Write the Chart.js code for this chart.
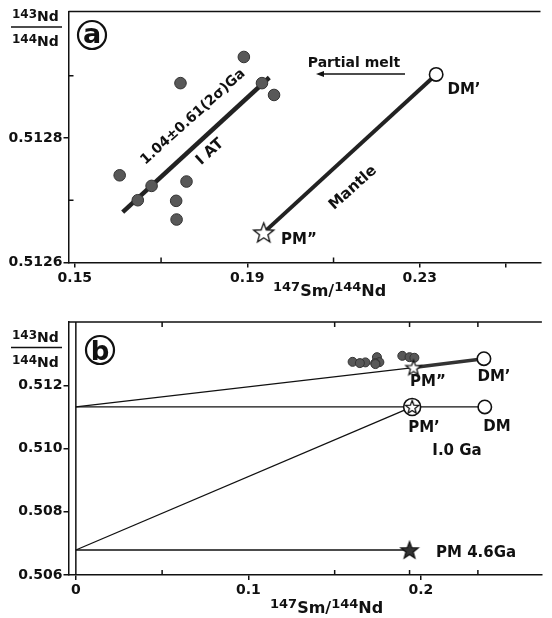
<!DOCTYPE html>
<html>
<head>
<meta charset="utf-8">
<script src="https://cdn.jsdelivr.net/npm/chart.js@4.4.1/dist/chart.umd.min.js"></script>
<style>
  body { margin: 0; background: #fff; }
  #wrap { position: relative; width: 552px; height: 618px; }
  canvas { position: absolute; left: 0; }
  #chartA { top: 0; }
  #chartB { top: 300px; }
</style>
</head>
<body>
<div id="wrap">
  <canvas id="chartA" width="552" height="300"></canvas>
  <canvas id="chartB" width="552" height="318"></canvas>
</div>
<script>
// IAT samples, same in both panels
const iatSm = [0.1892, 0.1745, 0.1934, 0.1962, 0.1604, 0.1678, 0.1759, 0.1646, 0.1735, 0.1736];
const iatNd = [0.51293, 0.512888, 0.512888, 0.512869, 0.51274, 0.512723, 0.51273, 0.5127, 0.512699, 0.512669];

// panel a: isochron fit through the IAT, mantle line PM'' -> DM'
const fitSm = [0.1611, 0.1951];
const fitNd = [0.512681, 0.512897];
const mantleSm = [0.1938, 0.2338];
const mantleNd = [0.512648, 0.512902];

// panel b: reservoirs
const bNames = ["PM", "PM'", "DM", "PM''", "DM'"];
const bSm = [0.1934, 0.1949, 0.2370, 0.1957, 0.2365];
const bNd = [0.50679, 0.511314, 0.511314, 0.51256, 0.51284];
// initial ratios at x = 0 (4.6 Ga and 1.0 Ga)
const initNd = [0.50679, 0.511314];

// ticks
const aXTicks = [0.15, 0.19, 0.23, 0.25];
const aXMinor = [0.17, 0.21];
const aYTicks = [0.5126, 0.5128];
const aYMinor = [0.5127, 0.5129];
const bXTicks = [0, 0.1, 0.2];
const bXMinor = [0.05, 0.15, 0.1934, 0.233];
const bYTicks = [0.506, 0.508, 0.510, 0.512];

const FONT = '"DejaVu Sans"';
const INK = '#111';

function pts(xs, ys) {
  return xs.map((x, i) => ({ x: x, y: ys[i] }));
}
function pt(i) {
  return { x: bSm[i], y: bNd[i] };
}

function starImg(r, fill) {
  const c = document.createElement('canvas');
  const s = Math.ceil(2 * r + 4);
  c.width = s; c.height = s;
  const g = c.getContext('2d');
  g.translate(s / 2, s / 2 + r * 0.08);
  g.beginPath();
  for (let i = 0; i < 10; i++) {
    const rr = i % 2 ? r * 0.42 : r;
    const a = -Math.PI / 2 + i * Math.PI / 5;
    g.lineTo(rr * Math.cos(a), rr * Math.sin(a));
  }
  g.closePath();
  g.fillStyle = fill; g.fill();
  g.lineWidth = 1.3; g.strokeStyle = INK; g.stroke();
  return c;
}

function rich(ctx, parts, x, y) {
  let cx = x;
  parts.forEach(p => {
    ctx.font = 'bold ' + p[1] + 'px ' + FONT;
    ctx.fillText(p[0], cx, y + p[2]);
    cx += ctx.measureText(p[0]).width;
  });
}

function label(ctx, text, x, y, size, rot) {
  ctx.save();
  ctx.translate(x, y);
  if (rot) ctx.rotate(rot);
  ctx.font = 'bold ' + (size || 15) + 'px ' + FONT;
  ctx.textAlign = 'center';
  ctx.textBaseline = 'middle';
  ctx.fillText(text, 0, 0);
  ctx.restore();
}

function circled(ctx, ch, x, y, r, size) {
  ctx.save();
  ctx.beginPath();
  ctx.arc(x, y, r, 0, Math.PI * 2);
  ctx.lineWidth = 2.2; ctx.strokeStyle = INK; ctx.stroke();
  ctx.font = 'bold ' + size + 'px ' + FONT;
  const m = ctx.measureText(ch);
  const h = m.actualBoundingBoxAscent + m.actualBoundingBoxDescent;
  ctx.textAlign = 'center';
  ctx.fillText(ch, x, y + h / 2 - m.actualBoundingBoxDescent);
  ctx.restore();
}

function fraction(ctx, x, lineY) {
  rich(ctx, [['143', 12, -3], ['Nd', 14, 0]], x + 1, lineY - 6);
  rich(ctx, [['144', 12, -3], ['Nd', 14, 0]], x + 1, lineY + 19);
  ctx.beginPath();
  ctx.moveTo(x, lineY); ctx.lineTo(x + 51, lineY);
  ctx.lineWidth = 1.5; ctx.strokeStyle = INK; ctx.stroke();
}

function xTitle(ctx, x, y) {
  rich(ctx, [['147', 13, -5], ['Sm', 16, 0], ['/', 16, 0], ['144', 13, -5], ['Nd', 16, 0]], x, y);
}

function innerTicks(ctx, chart, xs, ys, top) {
  const a = chart.chartArea, sx = chart.scales.x, sy = chart.scales.y;
  ctx.beginPath();
  xs.forEach(v => {
    const px = sx.getPixelForValue(v);
    ctx.moveTo(px, a.bottom); ctx.lineTo(px, a.bottom - 5);
    if (top) { ctx.moveTo(px, a.top); ctx.lineTo(px, a.top + 5); }
  });
  ys.forEach(v => {
    const py = sy.getPixelForValue(v);
    ctx.moveTo(a.left, py); ctx.lineTo(a.left + 5, py);
  });
  ctx.moveTo(a.left, a.top); ctx.lineTo(a.right, a.top);
  ctx.lineWidth = 1.5; ctx.strokeStyle = INK; ctx.stroke();
}

const extrasA = {
  id: 'extrasA',
  afterDraw(chart) {
    const ctx = chart.ctx;
    ctx.save();
    ctx.fillStyle = INK;
    innerTicks(ctx, chart, aXMinor, aYMinor, false);
    fraction(ctx, 11, 27);
    circled(ctx, 'a', 92, 35, 14, 27);
    xTitle(ctx, 273, 296);
    label(ctx, 'Partial melt', 354, 63, 14);
    // arrow pointing left under the words
    ctx.beginPath();
    ctx.moveTo(405, 74); ctx.lineTo(320, 74);
    ctx.lineWidth = 1.4; ctx.stroke();
    ctx.beginPath();
    ctx.moveTo(316, 74); ctx.lineTo(324, 71); ctx.lineTo(324, 77); ctx.closePath();
    ctx.fill();
    label(ctx, 'DM\u2019', 464, 90);
    label(ctx, 'PM\u201d', 299, 240);
    const rot = -42 * Math.PI / 180;
    label(ctx, '1.04\u00b10.61(2\u03c3)Ga', 193, 117, 14, rot);
    label(ctx, 'I AT', 210, 152, 15, rot);
    label(ctx, 'Mantle', 353, 188, 15, rot);
    ctx.restore();
  }
};

const extrasB = {
  id: 'extrasB',
  afterDraw(chart) {
    const ctx = chart.ctx;
    ctx.save();
    ctx.fillStyle = INK;
    innerTicks(ctx, chart, bXMinor, [], true);
    fraction(ctx, 11, 47.5);
    circled(ctx, 'b', 100, 50, 14, 26);
    xTitle(ctx, 270, 313);
    label(ctx, 'PM\u201d', 428, 82);
    label(ctx, 'DM\u2019', 494, 77);
    label(ctx, 'PM\u2019', 424, 128);
    label(ctx, 'DM', 497, 127);
    label(ctx, 'I.0 Ga', 457, 151);
    ctx.font = 'bold 15px ' + FONT;
    ctx.textBaseline = 'middle';
    ctx.fillText('PM 4.6Ga', 436, 253);
    ctx.restore();
  }
};

function axisX(min, max, ticks, fmt, height) {
  return {
    type: 'linear', min: min, max: max,
    afterBuildTicks: s => { s.ticks = ticks.map(v => ({ value: v })); },
    afterFit: s => { s.height = height; },
    ticks: { callback: fmt, color: INK, font: { family: FONT, weight: 'bold', size: 14 }, padding: 2, maxRotation: 0, autoSkip: false },
    grid: { drawOnChartArea: false, tickLength: 5, color: INK, lineWidth: 1.5 },
    border: { color: INK, width: 1.5 }
  };
}
function axisY(min, max, ticks, digits) {
  return {
    type: 'linear', min: min, max: max,
    afterBuildTicks: s => { s.ticks = ticks.map(v => ({ value: v })); },
    afterFit: s => { s.width = 68.5; },
    ticks: { callback: v => v.toFixed(digits), color: INK, font: { family: FONT, weight: 'bold', size: 14 }, padding: 1, autoSkip: false },
    grid: { drawOnChartArea: false, tickLength: 5, color: INK, lineWidth: 1.5 },
    border: { color: INK, width: 1.5 }
  };
}

const lineSet = (data, w, col, order) => ({
  data: data, showLine: true, pointRadius: 0, borderWidth: w, borderColor: col || INK, order: order || 5
});
const dotSet = (data, r) => ({
  data: data, pointRadius: r, pointHoverRadius: r, backgroundColor: '#585858', borderColor: '#333', borderWidth: 1, order: 2
});
const openCircle = (data, r) => ({
  data: data, pointRadius: r, pointHoverRadius: r, backgroundColor: '#fff', borderColor: INK, borderWidth: 1.6, order: 1
});
const starSet = (data, r, fill) => ({
  data: data, pointStyle: starImg(r, fill), pointRadius: r, order: 0
});

const common = {
  responsive: false,
  animation: false,
  events: [],
  plugins: { legend: { display: false }, tooltip: { enabled: false } }
};

new Chart(document.getElementById('chartA'), {
  type: 'scatter',
  data: {
    datasets: [
      lineSet(pts(fitSm, fitNd), 4.5, '#222', 5),
      lineSet(pts(mantleSm, mantleNd), 4, '#222', 5),
      dotSet(pts(iatSm, iatNd), 5.8),
      openCircle([{ x: mantleSm[1], y: mantleNd[1] }], 6.7),
      starSet([{ x: mantleSm[0], y: mantleNd[0] }], 10.5, '#fff')
    ]
  },
  options: Object.assign({}, common, {
    layout: { padding: { top: 10.5, right: 0, left: 0, bottom: 0 } },
    scales: {
      x: axisX(0.14853, 0.2580, aXTicks, v => (v > 0.24 ? '' : v.toFixed(2)), 37.5),
      y: axisY(0.5126, 0.513003, aYTicks, 4)
    }
  }),
  plugins: [extrasA]
});

new Chart(document.getElementById('chartB'), {
  type: 'scatter',
  data: {
    datasets: [
      lineSet([{ x: 0, y: 0.506 }, { x: 0, y: 0.514 }], 1.5, INK, 6),
      lineSet([{ x: 0, y: initNd[0] }, pt(0)], 1.3, INK, 6),
      lineSet([{ x: 0, y: initNd[0] }, pt(1)], 1.3, INK, 6),
      lineSet([{ x: 0, y: initNd[1] }, pt(2)], 1.3, INK, 6),
      lineSet([{ x: 0, y: initNd[1] }, pt(3)], 1.3, INK, 6),
      lineSet([pt(3), pt(4)], 3.5, '#333', 5),
      dotSet(pts(iatSm, iatNd), 4.5),
      openCircle([pt(2), pt(4)], 6.7),
      openCircle([pt(1)], 8.5),
      starSet([pt(1)], 7, '#fff'),
      starSet([pt(3)], 8, '#fff'),
      starSet([pt(0)], 9, '#333')
    ]
  },
  options: Object.assign({}, common, {
    layout: { padding: { top: 22, right: 0, left: 0, bottom: 0 } },
    scales: {
      x: axisX(-0.00426, 0.2701, bXTicks, v => (v === 0 ? '0' : String(Math.round(v * 10) / 10)), 43),
      y: axisY(0.506, 0.514, bYTicks, 3)
    }
  }),
  plugins: [extrasB]
});
</script>
</body>
</html>
